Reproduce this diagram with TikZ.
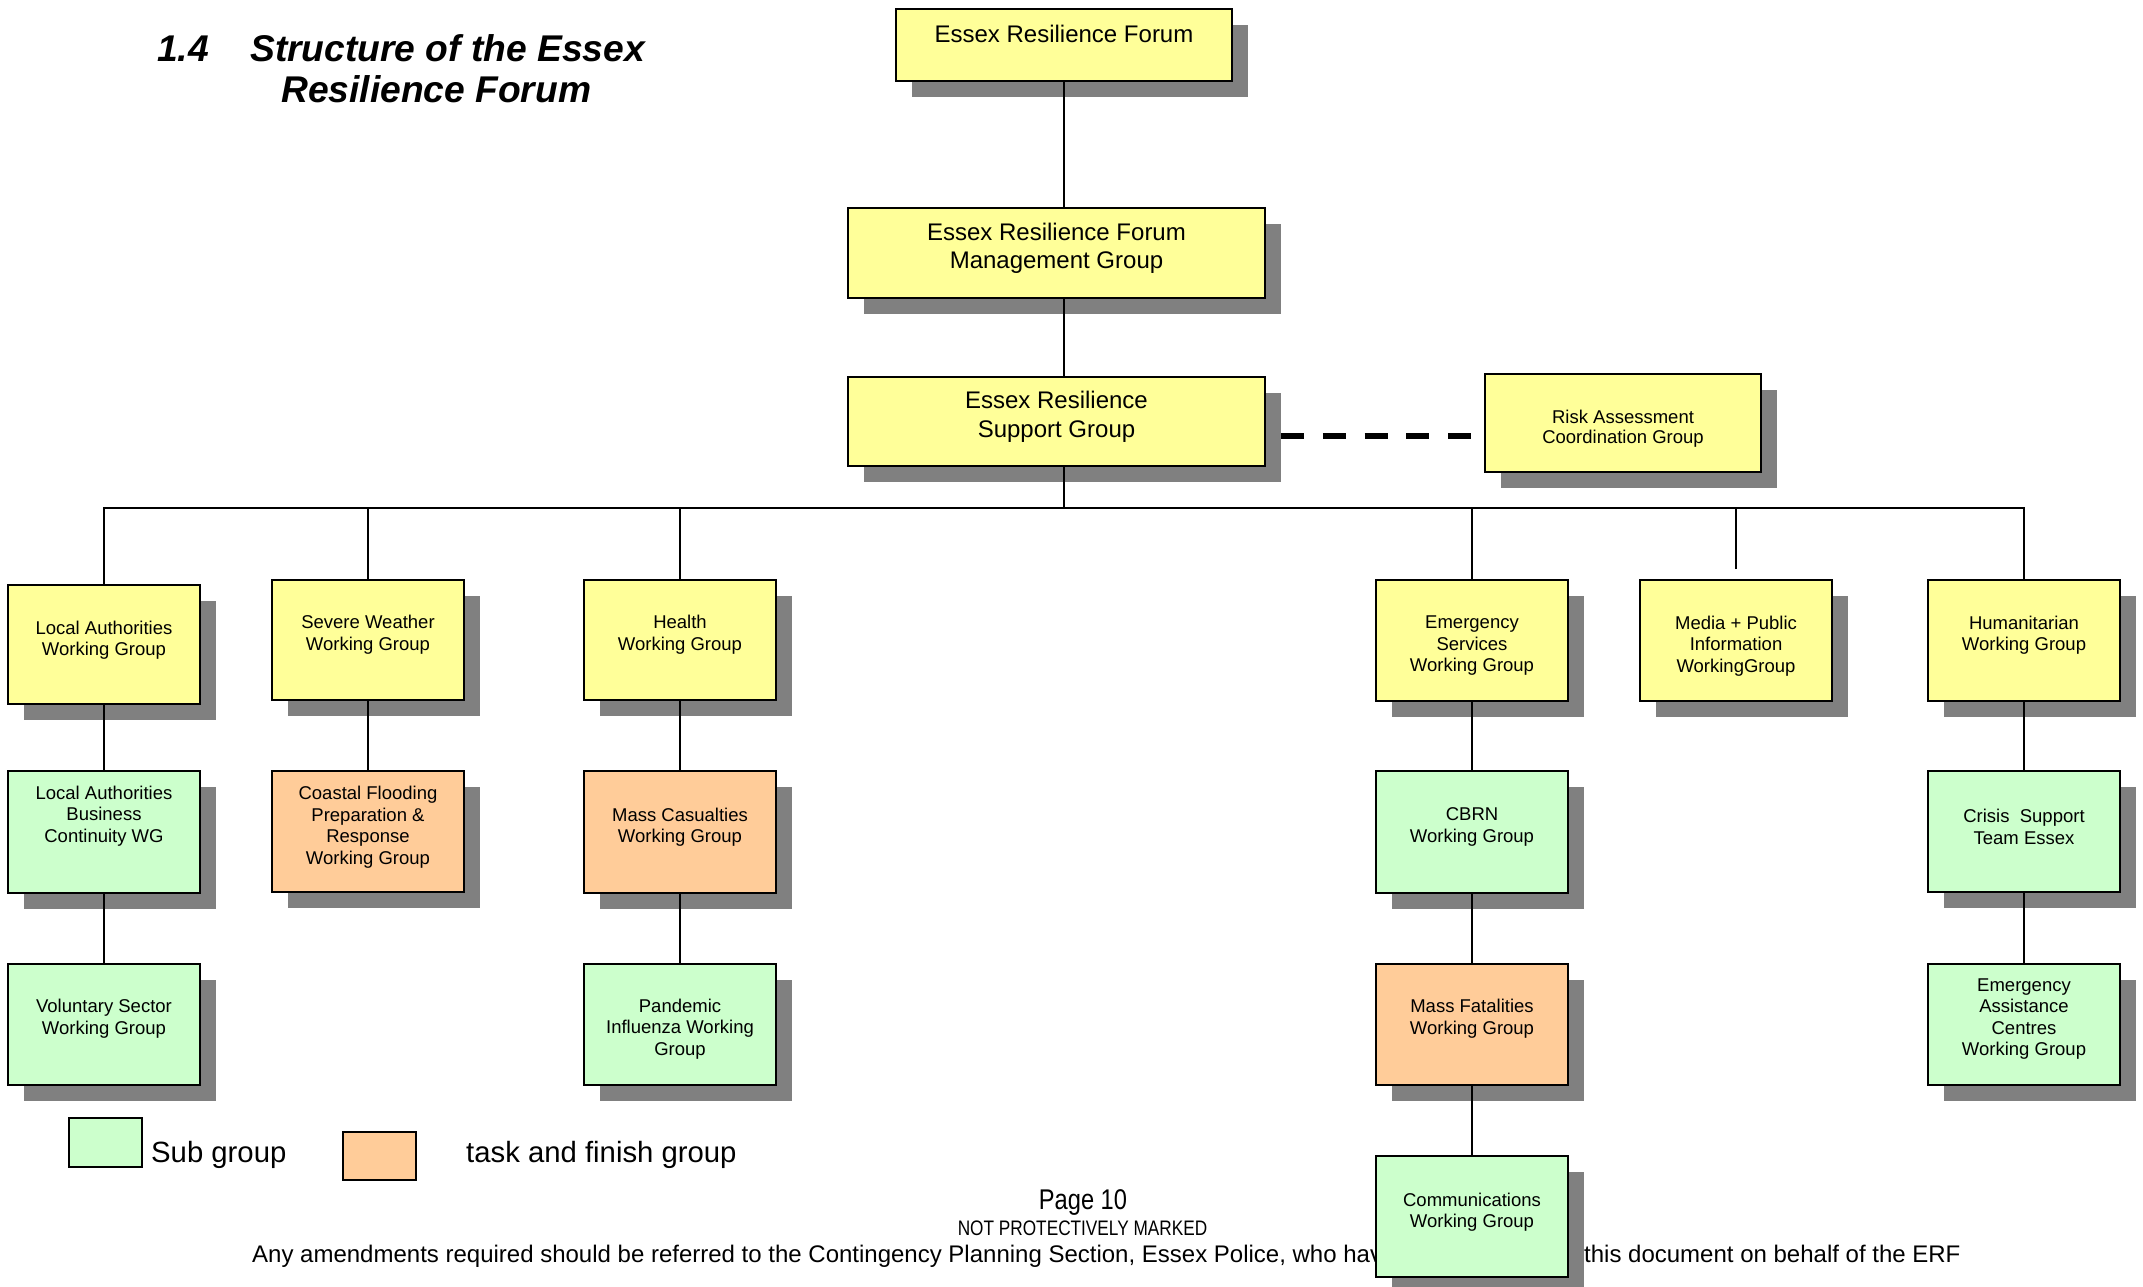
\documentclass[tikz,border=0pt]{standalone}
\usepackage{fontspec}
\setmainfont{Liberation Sans}
\usepackage{graphicx}
\usetikzlibrary{calc}
\definecolor{boxyellow}{HTML}{FFFF99}
\definecolor{boxgreen}{HTML}{CCFFCC}
\definecolor{boxorange}{HTML}{FFCC99}
\definecolor{shadowgray}{HTML}{808080}
\pgfdeclarelayer{bg}
\pgfdeclarelayer{shadow}
\pgfdeclarelayer{lines}
\pgfsetlayers{bg,shadow,lines,main}
\tikzset{
  orgframe/.style={draw=black, line width=2pt, rectangle, inner sep=0pt, outer sep=0pt, anchor=north west},
  orgtext/.style={align=center, inner sep=0pt, font=\fontsize{18.5}{21.5}\selectfont},
  risktext/.style={align=center, inner sep=0pt, font=\fontsize{18.5}{20}\selectfont},
  bigtext/.style={align=center, inner sep=0pt, font=\fontsize{24}{28.5}\selectfont},
  conn/.style={draw=black, line width=1.8pt},
  dashline/.style={draw=black, line width=6pt, dash pattern=on 23pt off 18.8pt},
  titlefont/.style={inner sep=0pt, anchor=base west, font=\fontsize{37.2}{40}\selectfont\bfseries\itshape},
  legsq/.style={draw=black, line width=1.5pt, anchor=north west, inner sep=0pt, outer sep=0pt},
  legtext/.style={inner sep=0pt, anchor=base west, font=\fontsize{29.3}{32}\selectfont},
  foottext/.style={inner sep=0pt, anchor=base west, font=\fontsize{24}{26}\selectfont},
}
% name, x, y, w, h, fill, text centre y, text style, text
\newcommand\orgbox[9]{%
  \begin{pgfonlayer}{shadow}
    \fill[shadowgray] (#2+16,#3+16) rectangle ++(#4,#5);
  \end{pgfonlayer}
  \node[orgframe, fill=#6, minimum width=#4pt, minimum height=#5pt] (#1) at (#2,#3) {};
  \node[#8] (#1-t) at (#2+#4/2,#7) {#9};
}
\begin{document}
\begin{tikzpicture}[x=1pt,y=-1pt]
\useasboundingbox (0,0) rectangle (2143,1286);
\begin{pgfonlayer}{bg}
  \fill[white] (0,0) rectangle (2143,1286);
  \node[anchor=base, inner sep=0pt, font=\fontsize{28.5}{30}\selectfont] (pagenum) at (1083,1209) {\scalebox{0.83}[1]{Page 10}};
  \node[anchor=base, inner sep=0pt, font=\fontsize{21}{23}\selectfont] (marking) at (1082.5,1235) {\scalebox{0.82}[1]{NOT PROTECTIVELY MARKED}};
  \node[foottext] (foot1) at (252,1262) {Any amendments required should be referred to the Contingency Planning Section, Essex Police, who have};
  \node[foottext] (foot2) at (1584,1262) {this document on behalf of the ERF};
\end{pgfonlayer}

% title
\node[titlefont] (tnum) at (157,61) {1.4};
\node[titlefont] (ttl1) at (250,61) {Structure of the Essex};
\node[titlefont] (ttl2) at (281,102) {Resilience Forum};

% top boxes
\orgbox{erf}{896}{9}{336}{72}{boxyellow}{33.5}{bigtext}{Essex Resilience Forum}
\orgbox{mgmt}{848}{208}{417}{90}{boxyellow}{248.5}{bigtext}{Essex Resilience Forum\\Management Group}
\orgbox{support}{848}{377}{417}{89}{boxyellow}{417}{bigtext}{Essex Resilience\\Support Group}
\orgbox{risk}{1485}{374}{276}{98}{boxyellow}{428.5}{risktext}{Risk Assessment\\Coordination Group}

% row 1
\orgbox{la}{8}{585}{192}{119}{boxyellow}{640}{orgtext}{Local Authorities\\Working Group}
\orgbox{sw}{272}{580}{192}{120}{boxyellow}{634.5}{orgtext}{Severe Weather\\Working Group}
\orgbox{health}{584}{580}{192}{120}{boxyellow}{634.5}{orgtext}{Health\\Working Group}
\orgbox{es}{1376}{580}{192}{121}{boxyellow}{646}{orgtext}{Emergency\\Services\\Working Group}
\orgbox{media}{1640}{580}{192}{121}{boxyellow}{646}{orgtext}{Media + Public\\Information\\WorkingGroup}
\orgbox{hum}{1928}{580}{192}{121}{boxyellow}{635}{orgtext}{Humanitarian\\Working Group}

% row 2
\orgbox{labc}{8}{771}{192}{122}{boxgreen}{816}{orgtext}{Local Authorities\\Business\\Continuity WG}
\orgbox{cf}{272}{771}{192}{121}{boxorange}{827}{orgtext}{Coastal Flooding\\Preparation \&\\Response\\Working Group}
\orgbox{mc}{584}{771}{192}{122}{boxorange}{827}{orgtext}{Mass Casualties\\Working Group}
\orgbox{cbrn}{1376}{771}{192}{122}{boxgreen}{827}{orgtext}{CBRN\\Working Group}
\orgbox{cste}{1928}{771}{192}{121}{boxgreen}{827}{orgtext}{Crisis\ \ Support\\Team Essex}

% row 3
\orgbox{vs}{8}{964}{192}{121}{boxgreen}{1018.5}{orgtext}{Voluntary Sector\\Working Group}
\orgbox{pi}{584}{964}{192}{121}{boxgreen}{1029}{orgtext}{Pandemic\\Influenza Working\\Group}
\orgbox{mf}{1376}{964}{192}{121}{boxorange}{1018.5}{orgtext}{Mass Fatalities\\Working Group}
\orgbox{eac}{1928}{964}{192}{121}{boxgreen}{1019}{orgtext}{Emergency\\Assistance\\Centres\\Working Group}

% row 4
\orgbox{comm}{1376}{1156}{192}{121}{boxgreen}{1212}{orgtext}{Communications\\Working Group}

% connectors
\begin{pgfonlayer}{lines}
  \coordinate (bus) at (1064,508);
  \coordinate (dashy) at (0,436);
  \draw[conn] (erf.south) -- (erf.south |- mgmt.north);
  \draw[conn] (erf.south |- mgmt.south) -- (erf.south |- support.north);
  \draw[conn] (erf.south |- support.south) -- (bus);
  \draw[conn] (la.north) -- (la.north |- bus) -- (hum.north |- bus) -- (hum.north);
  \draw[conn] (sw.north) -- (sw.north |- bus);
  \draw[conn] (health.north) -- (health.north |- bus);
  \draw[conn] (es.north) -- (es.north |- bus);
  \draw[conn] ([yshift=11pt]media.north) -- (media.north |- bus);
  \draw[conn] (la.south) -- (la.south |- labc.north);
  \draw[conn] (labc.south) -- (labc.south |- vs.north);
  \draw[conn] (sw.south) -- (sw.south |- cf.north);
  \draw[conn] (health.south) -- (health.south |- mc.north);
  \draw[conn] (mc.south) -- (mc.south |- pi.north);
  \draw[conn] (es.south) -- (es.south |- cbrn.north);
  \draw[conn] (cbrn.south) -- (cbrn.south |- mf.north);
  \draw[conn] (mf.south) -- (mf.south |- comm.north);
  \draw[conn] (hum.south) -- (hum.south |- cste.north);
  \draw[conn] (cste.south) -- (cste.south |- eac.north);
  \draw[dashline] ($(support.east |- dashy)+(16,0)$) -- (risk.west |- dashy);
\end{pgfonlayer}

% legend
\node[legsq, fill=boxgreen, minimum width=73pt, minimum height=49pt] (legsub) at (69,1118) {};
\node[legtext] (legsubt) at (151,1162) {Sub group};
\node[legsq, fill=boxorange, minimum width=73pt, minimum height=48pt] (legtask) at (343,1132) {};
\node[legtext] (legtaskt) at (466,1162) {task and finish group};
\end{tikzpicture}
\end{document}
